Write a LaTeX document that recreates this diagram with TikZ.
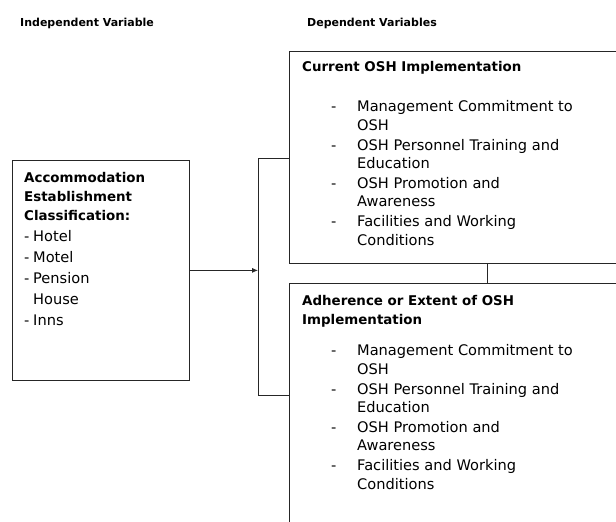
\documentclass[tikz,border=0pt]{standalone}
\usepackage{fontspec}
\setmainfont{DejaVu Sans}
\usetikzlibrary{arrows.meta}
\newcommand{\fr}{\rule{0pt}{11pt}}
\newcommand{\itm}[1]{\makebox[26pt][l]{-}#1}
\newcommand{\cnt}[1]{\hspace*{26pt}#1}
\begin{document}
\begin{tikzpicture}[x=1pt,y=-1pt,
  box/.style={draw=black!85,line width=0.8pt,anchor=north west,inner sep=0pt},
  line/.style={draw=black!85,line width=0.8pt},
  hdr/.style={font=\fontsize{11}{13}\selectfont\bfseries,anchor=base west,inner sep=0pt},
  txt/.style={font=\fontsize{14.6}{18.5}\selectfont,align=left,anchor=north west,inner sep=0pt},
  ttl/.style={font=\fontsize{13.4}{19}\selectfont\bfseries,align=left,anchor=north west,inner sep=0pt}]
\useasboundingbox (0,0) rectangle (616,522);
\clip (0,0) rectangle (616,522);
% headers
\node[hdr] (hind) at (20,27) {Independent Variable};
\node[hdr] (hdep) at (307,27) {Dependent Variables};
% boxes
\node[box,minimum width=177pt,minimum height=220pt] (left) at (12,160) {};
\node[box,minimum width=360pt,minimum height=212pt] (top) at (289,51) {};
\node[box,minimum width=360pt,minimum height=280pt] (bot) at (289,283) {};
% left text
\node[ttl] (ltitle) at (24,171) {\fr Accommodation\\Establishment\\Classification:};
\node[txt,font=\fontsize{14.6}{21}\selectfont] (litems) at (24,230) {\fr\makebox[9pt][l]{-}Hotel\\\makebox[9pt][l]{-}Motel\\\makebox[9pt][l]{-}Pension\\\hspace*{9pt}House\\\makebox[9pt][l]{-}Inns};
% top text
\node[ttl] (ttitle) at (302,60) {\fr Current OSH Implementation};
\node[txt] (titems) at (331,100.5) {\fr\itm{Management Commitment to}\\\cnt{OSH}\\[1.3pt]\itm{OSH Personnel Training and}\\\cnt{Education}\\[1.3pt]\itm{OSH Promotion and}\\\cnt{Awareness}\\[1.3pt]\itm{Facilities and Working}\\\cnt{Conditions}};
% bottom text
\node[ttl] (btitle) at (302,294) {\fr Adherence or Extent of OSH\\Implementation};
\node[txt] (bitems) at (331,344.5) {\fr\itm{Management Commitment to}\\\cnt{OSH}\\[1.3pt]\itm{OSH Personnel Training and}\\\cnt{Education}\\[1.3pt]\itm{OSH Promotion and}\\\cnt{Awareness}\\[1.3pt]\itm{Facilities and Working}\\\cnt{Conditions}};
% connectors
\coordinate (bt) at (258,158);
\coordinate (bb) at (258,395);
\draw[line] (bt -| top.west) -- (bt) -- (bb) -- (bb -| bot.west);
\draw[line,-{Latex[length=6pt,width=5pt]}] (left.east) -- (left.east -| bt);
\draw[line] (top.south -| 487,0) -- (bot.north -| 487,0);
\end{tikzpicture}
\end{document}
